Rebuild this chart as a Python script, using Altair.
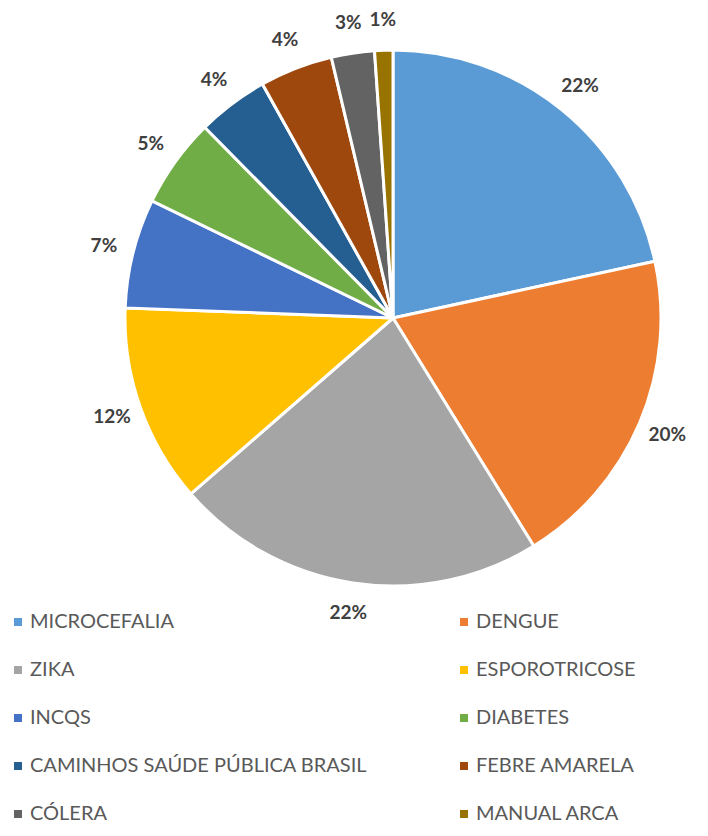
import altair as alt
import pandas as pd

categories = ["MICROCEFALIA", "DENGUE", "ZIKA", "ESPOROTRICOSE", "INCQS",
              "DIABETES", "CAMINHOS SAÚDE PÚBLICA BRASIL", "FEBRE AMARELA",
              "CÓLERA", "MANUAL ARCA"]
values = [21.6, 19.6, 22.4, 12.0, 6.6, 5.4, 4.3, 4.4, 2.6, 1.1]
colors = ["#5B9BD5", "#ED7D31", "#A5A5A5", "#FFC000", "#4472C4",
          "#70AD47", "#255E91", "#9E480E", "#636363", "#997300"]

df = pd.DataFrame({"cat": categories, "val": values, "ord": list(range(len(categories)))})

# legend is filled column by column; reorder so it reads row by row
leg_idx = list(range(0, len(categories), 2)) + list(range(1, len(categories), 2))
leg_domain = [categories[i] for i in leg_idx]
leg_range = [colors[i] for i in leg_idx]

base = alt.Chart(df).transform_joinaggregate(
    total="sum(val)"
).transform_calculate(
    pct="datum.val / datum.total"
).encode(
    theta=alt.Theta("val:Q", stack=True),
    order=alt.Order("ord:Q"),
    x=alt.value(385),
    y=alt.value(310),
)

pie = base.mark_arc(outerRadius=268, stroke="white", strokeWidth=3).encode(
    color=alt.Color(
        "cat:N",
        scale=alt.Scale(domain=leg_domain, range=leg_range),
        legend=alt.Legend(
            title=None,
            orient="none",
            legendX=0,
            legendY=604,
            columns=2,
            columnPadding=86,
            rowPadding=28,
            symbolType="square",
            symbolSize=64,
            symbolStrokeWidth=0,
            labelFont="Lato",
            labelFontSize=20,
            labelColor="#595959",
            labelOffset=2,
            labelLimit=500,
            padding=0,
        ),
    )
)

labels = base.mark_text(radius=298, font="Lato", fontSize=19, fontWeight="bold",
                        color="#404040").encode(
    text=alt.Text("pct:Q", format=".0%")
)

chart = alt.layer(pie, labels).properties(
    width=692, height=820, padding=0, autosize="none"
).configure_view(stroke=None)

chart.save("out.html", embed_options={"renderer": "svg", "actions": False})
